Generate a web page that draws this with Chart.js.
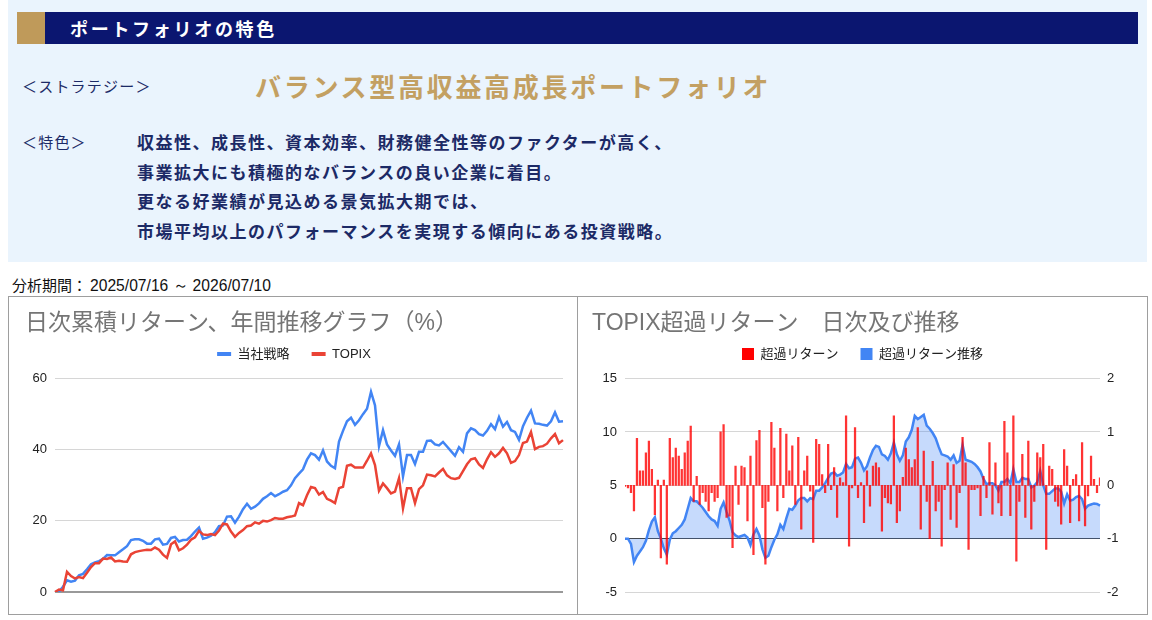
<!DOCTYPE html>
<html lang="ja">
<head>
<meta charset="utf-8">
<title>ポートフォリオの特色</title>
<script src="https://cdn.jsdelivr.net/npm/chart.js@4.4.1/dist/chart.umd.min.js"></script>
<style>
  body { margin: 0; width: 1152px; height: 620px; overflow: hidden; background: #fff;
         font-family: "Noto Sans CJK JP", sans-serif; position: relative; }
  .abs { position: absolute; white-space: nowrap; }
  .panel { left: 8px; top: 0; width: 1139px; height: 262px; background: #eaf4fd; }
  .gold { left: 17px; top: 12px; width: 28px; height: 32px; background: #bf9a5a; }
  .navy { left: 45px; top: 12px; width: 1093px; height: 32px; background: #0b1670; }
  .head { left: 70px; top: 12px; line-height: 32px; color: #fff; font-size: 18px; font-weight: bold; letter-spacing: 2.7px; }
  .tag { left: 22px; color: #1c2a66; font-size: 15px; line-height: 30px; letter-spacing: 1.2px; }
  .strategy { left: 255px; top: 68px; line-height: 36px; color: #c3a062; font-size: 26px; font-weight: bold; letter-spacing: 2.7px; }
  .feature { left: 137px; top: 127px; color: #1c2a66; font-size: 17px; font-weight: bold; letter-spacing: 1.5px; line-height: 29.7px; }
  .period { left: 12px; top: 275px; line-height: 20px; font-size: 15px; color: #111; }
  .period .num { display: inline-block; font-family: "Liberation Sans", Arial, sans-serif; font-size: 17px;
                 transform: scaleX(0.92); transform-origin: left center; }
  .box { border: 1px solid #9e9e9e; box-sizing: border-box; top: 296px; height: 319px; }
  .box canvas { display: block; }
</style>
</head>
<body>
<div class="abs panel"></div>
<div class="abs gold"></div>
<div class="abs navy"></div>
<div class="abs head">ポートフォリオの特色</div>
<div class="abs tag" style="top:71px">＜ストラテジー＞</div>
<div class="abs strategy">バランス型高収益高成長ポートフォリオ</div>
<div class="abs tag" style="top:127px">＜特色＞</div>
<div class="abs feature">収益性、成長性、資本効率、財務健全性等のファクターが高く、<br>事業拡大にも積極的なバランスの良い企業に着目。<br>更なる好業績が見込める景気拡大期では、<br>市場平均以上のパフォーマンスを実現する傾向にある投資戦略。</div>
<div class="abs period">分析期間： <span class="num">2025/07/16 ～ 2026/07/10</span></div>
<div class="abs box" style="left:8px; width:570px;"><canvas id="cumChart" width="568" height="317"></canvas></div>
<div class="abs box" style="left:577px; width:571px;"><canvas id="excessChart" width="569" height="317"></canvas></div>

<script>
// cumulative return (%), roughly every 2 trading days
const strategyReturn = [
  0, 0.1, 1.5, 3.3, 2.9, 3.2, 4.7, 5.1, 6.4, 7.8,
  8.3, 8.7, 9.3, 10.4, 10.3, 10.3, 11.2, 12.0, 12.9, 14.6,
  14.8, 14.8, 14.4, 13.6, 13.6, 14.8, 15.0, 13.3, 13.5, 15.2,
  15.5, 14.2, 14.6, 14.7, 15.7, 17.0, 18.1, 15.0, 15.3, 15.8,
  16.8, 18.5, 18.7, 21.2, 21.3, 19.5, 21.2, 23.3, 24.8, 23.4,
  24.0, 24.9, 26.2, 26.9, 27.8, 26.9, 27.5, 28.2, 28.6, 30.0,
  32.0, 33.3, 34.5, 37.2, 39.0, 38.5, 37.2, 39.8, 36.7, 35.5,
  34.8, 42.3, 45.3, 48.0, 49.0, 47.0, 48.3, 50.0, 51.5, 56.3,
  52.5, 41.0, 45.5, 41.5, 39.8, 38.3, 41.5, 32.5, 38.5, 38.5,
  36.0, 39.4, 39.4, 42.5, 42.6, 41.5, 41.2, 42.2, 40.9, 39.6,
  38.3, 40.7, 39.4, 44.6, 46.0, 45.5, 44.4, 44.0, 45.3, 47.2,
  45.8, 49.2, 46.5, 47.8, 45.5, 45.0, 42.8, 46.6, 49.0, 51.0,
  47.4, 47.3, 47.0, 46.8, 48.0, 50.5, 47.9, 48.0
];
const topixReturn = [
  0, 0.7, 0.5, 5.7, 4.5, 3.8, 4.2, 3.9, 5.4, 7.0,
  8.1, 8.1, 9.4, 9.3, 9.7, 8.6, 8.8, 8.6, 8.5, 10.6,
  11.2, 11.5, 11.7, 11.9, 11.8, 12.5, 11.9, 10.5, 9.6, 13.4,
  14.2, 11.7, 12.3, 13.3, 14.7, 15.4, 17.2, 16.2, 16.0, 16.3,
  16.0, 17.3, 19.2, 19.0, 17.0, 15.5, 16.6, 17.4, 18.5, 18.7,
  19.6, 19.2, 20.0, 19.8, 20.2, 20.8, 20.6, 20.6, 21.0, 21.2,
  21.5, 25.0, 24.4, 27.2, 29.5, 29.2, 27.4, 28.1, 26.2, 25.7,
  25.0, 29.2, 29.6, 35.5, 35.8, 35.0, 35.0, 35.0, 36.9, 39.0,
  35.7, 28.5, 30.5, 29.2, 27.7, 28.2, 32.0, 23.5, 29.2, 29.2,
  25.0, 28.9, 30.0, 33.0, 32.8, 32.5, 33.6, 34.6, 32.8, 32.0,
  31.8, 32.1, 34.0, 35.9, 37.3, 37.6, 35.9, 34.9, 37.3, 39.3,
  38.0, 39.0, 40.5, 39.0, 36.3, 36.8, 38.5, 41.9, 42.3, 45.0,
  40.2, 40.8, 41.0, 41.7, 43.2, 44.4, 41.8, 42.7
];
const cumTicks = [0, 20, 40, 60];

// TOPIX excess return: daily (%; right axis) and running total (left axis)
const excessDaily = [
  -0.02, -0.05, -0.14, -0.48, 0.88, 0.27, 0.27, 0.61, 0.83, 0.3,
  -0.55, 0.1, -1.36, 0.1, -1.48, 0.88, 0.52, 0.7, 0.55, 0.3,
  0.61, 0.83, 1.11, -0.3, 0.17, -0.36, -0.14, -0.3, -0.48, -0.14,
  -0.3, -0.23, 1.0, 1.14, -0.6, -0.58, -1.17, 0.36, -0.36, 0.36,
  0.33, -0.67, 0.55, -1.3, 0.84, 1.03, -0.42, -1.48, -0.3, 1.18,
  0.7, -0.48, 1.07, -0.23, 0.96, 0.27, 0.74, -0.36, 0.9, -0.82,
  0.27, 0.55, -0.11, -1.07, 0.86, 0.77, 0.2, -0.14, 0.77, -0.08,
  0.33, -0.6, 0.14, 0.05, 1.3, -1.14, -0.05, 1.08, -0.23, 0.05,
  -0.7, 0.27, -0.39, 0.36, 0.42, 0.33, -0.86, -0.23, -0.33, -0.35,
  1.3, -0.7, -0.48, 0.15, 0.7, 0.48, 0.33, 0.48, 1.08, -0.82,
  0.64, -0.3, -1.0, 0.45, -0.48, -0.3, -1.14, -0.08, 0.42, -0.64,
  0.39, -0.79, -0.14, 0.9, 0.42, -1.2, -0.08, -0.08, -0.05, -0.57,
  0.17, -0.23, 0.8, -0.54, 0.42, -0.33, -0.57, 1.2, 0.61, -0.57,
  1.3, -1.42, -0.3, 0.58, -0.6, 0.83, -0.82, -0.3, 0.61, 0.52,
  0.77, -1.2, 0.36, 0.3, -0.3, -0.39, -0.73, 0.67, 0.36, -0.7,
  0.11, 0.2, -0.67, 0.8, -0.76, -0.2, 0.55, 0.11, -0.14, 0.14
];
const excessTrend = [
  0, 0, -0.5, -2.2, -1.6, -1.2, -0.8, -0.2, 0.8, 1.6,
  2.0, 0.7, 0, -0.9, -1.5, -0.1, 0.5, 0.7, 1.0, 1.3,
  1.8, 2.8, 3.8, 3.5, 3.5, 3.2, 2.9, 2.5, 2.1, 1.8,
  1.65, 1.2, 2.8, 3.4, 2.5, 1.7, 0.6, 0.3, 0.15, 0.25,
  0.35, 0.1, -0.6, 0.4, 0.9, 0.3, -1.0, -1.8, -1.6, -0.8,
  -0.1, 0.4, 1.3, 0.9, 1.9, 2.8, 2.7, 3.1, 3.6, 3.8,
  3.8, 3.5, 3.8, 3.7, 4.5, 4.5, 4.8, 5.2, 5.7, 6.1,
  6.2, 5.9, 6.0, 6.2, 7.0, 6.6, 6.7, 7.5, 7.6, 7.1,
  6.4, 6.8, 7.6, 8.3, 8.7, 8.6, 7.9, 7.75, 7.4, 8.0,
  9.0, 7.9, 7.3, 7.8, 9.1, 9.5, 10.2, 11.5, 11.2, 11.4,
  11.6, 10.6, 10.3, 9.9, 9.4, 8.6, 7.9, 7.8, 7.7, 7.4,
  7.8, 7.1, 7.3, 8.8, 7.4, 7.3, 7.2, 7.0, 6.7, 6.3,
  5.6, 5.1, 5.2, 5.2, 5.0, 4.5, 5.3, 5.3, 5.6, 5.2,
  6.5, 5.3, 5.3, 5.7, 5.6, 5.6, 4.8, 4.95, 5.3, 6.35,
  5.0, 4.2, 4.2, 4.45, 4.7, 4.7, 4.4, 3.3, 4.15, 3.55,
  3.65, 3.9, 4.0, 3.7, 2.8, 3.1, 3.2, 3.3, 3.25, 3.1
];
const trendTicks = [-5, 0, 5, 10, 15];
const dailyTicks = [-2, -1, 0, 1, 2];

const cumDays = strategyReturn.map((_, i) => i + 1);
const excessDays = excessDaily.map((_, i) => i + 1);

Chart.defaults.font.family = "'Liberation Sans', Arial, 'Noto Sans CJK JP', sans-serif";
Chart.defaults.color = '#222';
Chart.defaults.animation = false;

// legend: flat colour swatch, kept in dataset order
function legendLabels(colors) {
  return {
    generateLabels(chart) {
      return Chart.defaults.plugins.legend.labels.generateLabels(chart).map(item => {
        item.lineWidth = 0;
        item.fillStyle = colors[item.datasetIndex];
        return item;
      });
    },
    sort: (a, b) => a.datasetIndex - b.datasetIndex
  };
}

// extra space between legend and plot area
const legendMargin = {
  id: 'legendMargin',
  beforeInit(chart) {
    const fitLegend = chart.legend.fit;
    chart.legend.fit = function () {
      fitLegend.bind(chart.legend)();
      this.height += 8;
    };
  }
};

// chart 1: cumulative return lines
const configCum = {
  type: 'line',
  data: {
    labels: cumDays,
    datasets: [{
      label: '当社戦略',
      data: strategyReturn,
      borderColor: '#4285f4',
      borderWidth: 2.5,
      pointRadius: 0,
      order: 1
    }, {
      label: 'TOPIX',
      data: topixReturn,
      borderColor: '#ea4335',
      borderWidth: 2.5,
      pointRadius: 0,
      order: 0
    }]
  },
  options: {
    responsive: false,
    layout: { padding: { left: 16, right: 14, top: 9, bottom: 22 } },
    plugins: {
      title: {
        display: true, text: '日次累積リターン、年間推移グラフ（%）', align: 'start',
        color: '#757575', font: { size: 23, weight: 'normal' }, padding: { top: 4, bottom: -12 }
      },
      legend: {
        labels: Object.assign({ boxWidth: 14, boxHeight: 4, padding: 22, font: { size: 13 }, color: '#222' },
                              legendLabels(['#4285f4', '#ea4335']))
      },
      tooltip: { enabled: false }
    },
    scales: {
      x: { display: false, offset: false },
      y: {
        min: 0, max: 60,
        afterBuildTicks(scale) { scale.ticks = cumTicks.map(v => ({ value: v })); },
        afterFit(scale) { scale.width = 30; },
        border: { display: false },
        grid: {
          drawTicks: false,
          color: c => c.tick.value === 0 ? '#999' : '#d6d6d6',
          lineWidth: c => c.tick.value === 0 ? 2 : 1
        },
        ticks: { padding: 8, font: { size: 13 } }
      }
    }
  },
  plugins: [legendMargin]
};

// chart 2: daily excess bars (right axis) + running total area (left axis)
const configExcess = {
  type: 'bar',
  data: {
    labels: excessDays,
    datasets: [{
      type: 'bar',
      label: '超過リターン',
      data: excessDaily,
      yAxisID: 'y1',
      backgroundColor: 'rgba(255, 0, 0, 0.8)',
      barThickness: 1.6,
      order: 0
    }, {
      type: 'line',
      label: '超過リターン推移',
      data: excessTrend,
      yAxisID: 'y',
      borderColor: '#4285f4',
      backgroundColor: 'rgba(66, 133, 244, 0.3)',
      borderWidth: 2.5,
      pointRadius: 0,
      fill: 'origin',
      order: 1
    }]
  },
  options: {
    responsive: false,
    layout: { padding: { left: 14, right: 14, top: 9, bottom: 22 } },
    plugins: {
      title: {
        display: true, text: 'TOPIX超過リターン　日次及び推移', align: 'start',
        color: '#757575', font: { size: 23, weight: 'normal' }, padding: { top: 4, bottom: -12 }
      },
      legend: {
        labels: Object.assign({ boxWidth: 12, boxHeight: 12, padding: 22, font: { size: 13 }, color: '#222' },
                              legendLabels(['#ff0000', '#4285f4']))
      },
      tooltip: { enabled: false }
    },
    scales: {
      x: { display: false, offset: false },
      y: {
        position: 'left', min: -5, max: 15,
        afterBuildTicks(scale) { scale.ticks = trendTicks.map(v => ({ value: v })); },
        afterFit(scale) { scale.width = 33; },
        border: { display: false },
        grid: {
          drawTicks: false,
          color: c => c.tick.value === 0 ? '#444' : '#d6d6d6'
        },
        ticks: { padding: 8, font: { size: 13 } }
      },
      y1: {
        position: 'right', min: -2, max: 2,
        afterBuildTicks(scale) { scale.ticks = dailyTicks.map(v => ({ value: v })); },
        afterFit(scale) { scale.width = 33; },
        border: { display: false },
        grid: { display: false, drawTicks: false },
        ticks: { padding: 7, font: { size: 13 } }
      }
    }
  },
  plugins: [legendMargin]
};

const cumChart = new Chart(document.getElementById('cumChart'), configCum);
const excessChart = new Chart(document.getElementById('excessChart'), configExcess);
</script>
</body>
</html>
